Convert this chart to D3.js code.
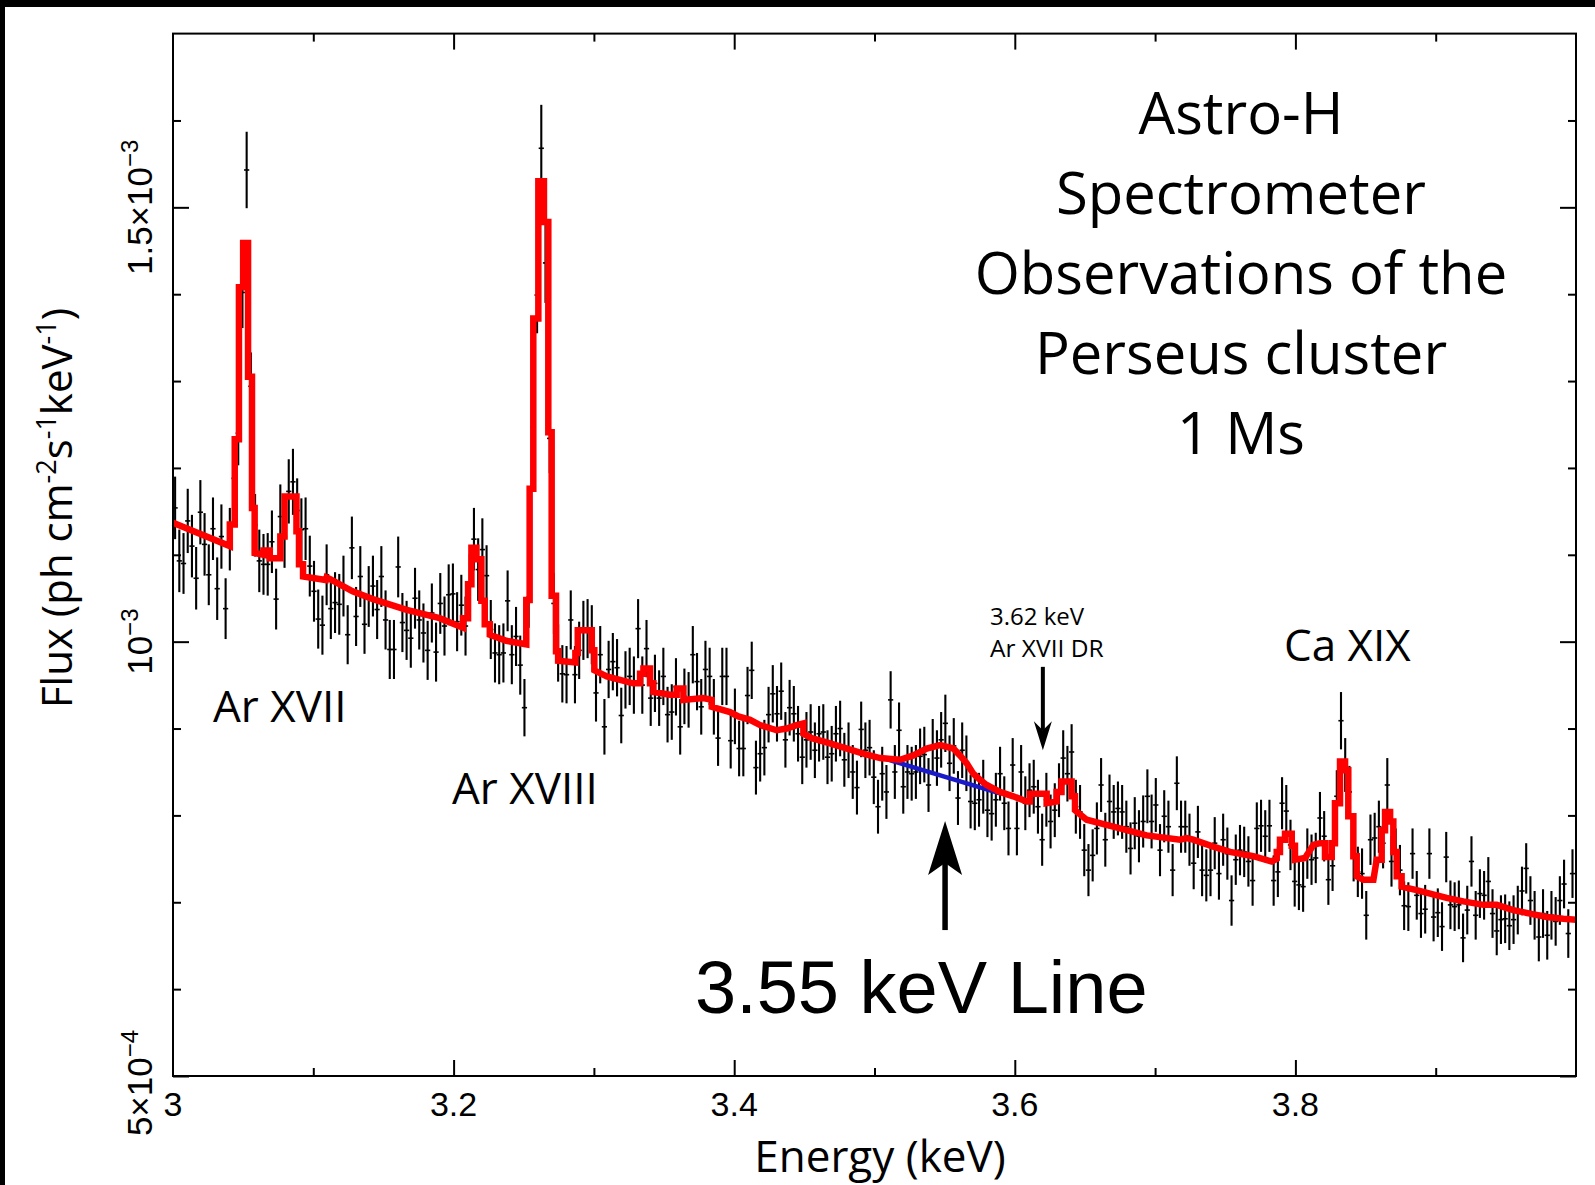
<!DOCTYPE html>
<html><head><meta charset="utf-8">
<script src="https://cdn.jsdelivr.net/npm/d3@7"></script>
<style>html,body{margin:0;padding:0;background:#fff;} svg{display:block;}</style>
</head><body>
<svg id="c" width="1595" height="1185"></svg>
<script>
// ---------- DATA (flux in units of 1e-3 ph cm^-2 s^-1 keV^-1) ----------
const energy = [
3.0015,3.0045,3.0075,3.0105,3.0135,3.0165,3.0195,3.0225,3.0255,3.0285,
3.0315,3.0345,3.0375,3.0405,3.0435,3.0465,3.0495,3.0525,3.0555,3.0585,
3.0615,3.0645,3.0675,3.0705,3.0735,3.0765,3.0795,3.0825,3.0855,3.0885,
3.0915,3.0945,3.0975,3.1005,3.1035,3.1065,3.1095,3.1125,3.1155,3.1185,
3.1215,3.1245,3.1275,3.1305,3.1335,3.1365,3.1395,3.1425,3.1455,3.1485,
3.1515,3.1545,3.1575,3.1605,3.1635,3.1665,3.1695,3.1725,3.1755,3.1785,
3.1815,3.1845,3.1875,3.1905,3.1935,3.1965,3.1995,3.2025,3.2055,3.2085,
3.2115,3.2145,3.2175,3.2205,3.2235,3.2265,3.2295,3.2325,3.2355,3.2385,
3.2415,3.2445,3.2475,3.2505,3.2535,3.2565,3.2595,3.2625,3.2655,3.2685,
3.2715,3.2745,3.2775,3.2805,3.2835,3.2865,3.2895,3.2925,3.2955,3.2985,
3.3015,3.3045,3.3075,3.3105,3.3135,3.3165,3.3195,3.3225,3.3255,3.3285,
3.3315,3.3345,3.3375,3.3405,3.3435,3.3465,3.3495,3.3525,3.3555,3.3585,
3.3615,3.3645,3.3675,3.3705,3.3735,3.3765,3.3795,3.3825,3.3855,3.3885,
3.3915,3.3945,3.3975,3.4005,3.4035,3.4065,3.4095,3.4125,3.4155,3.4185,
3.4215,3.4245,3.4275,3.4305,3.4335,3.4365,3.4395,3.4425,3.4455,3.4485,
3.4515,3.4545,3.4575,3.4605,3.4635,3.4665,3.4695,3.4725,3.4755,3.4785,
3.4815,3.4845,3.4875,3.4905,3.4935,3.4965,3.4995,3.5025,3.5055,3.5085,
3.5115,3.5145,3.5175,3.5205,3.5235,3.5265,3.5295,3.5325,3.5355,3.5385,
3.5415,3.5445,3.5475,3.5505,3.5535,3.5565,3.5595,3.5625,3.5655,3.5685,
3.5715,3.5745,3.5775,3.5805,3.5835,3.5865,3.5895,3.5925,3.5955,3.5985,
3.6015,3.6045,3.6075,3.6105,3.6135,3.6165,3.6195,3.6225,3.6255,3.6285,
3.6315,3.6345,3.6375,3.6405,3.6435,3.6465,3.6495,3.6525,3.6555,3.6585,
3.6615,3.6645,3.6675,3.6705,3.6735,3.6765,3.6795,3.6825,3.6855,3.6885,
3.6915,3.6945,3.6975,3.7005,3.7035,3.7065,3.7095,3.7125,3.7155,3.7185,
3.7215,3.7245,3.7275,3.7305,3.7335,3.7365,3.7395,3.7425,3.7455,3.7485,
3.7515,3.7545,3.7575,3.7605,3.7635,3.7665,3.7695,3.7725,3.7755,3.7785,
3.7815,3.7845,3.7875,3.7905,3.7935,3.7965,3.7995,3.8025,3.8055,3.8085,
3.8115,3.8145,3.8175,3.8205,3.8235,3.8265,3.8295,3.8325,3.8355,3.8385,
3.8415,3.8445,3.8475,3.8505,3.8535,3.8565,3.8595,3.8625,3.8655,3.8685,
3.8715,3.8745,3.8775,3.8805,3.8835,3.8865,3.8895,3.8925,3.8955,3.8985,
3.9015,3.9045,3.9075,3.9105,3.9135,3.9165,3.9195,3.9225,3.9255,3.9285,
3.9315,3.9345,3.9375,3.9405,3.9435,3.9465,3.9495,3.9525,3.9555,3.9585,
3.9615,3.9645,3.9675,3.9705,3.9735,3.9765,3.9795,3.9825,3.9855,3.9885,
3.9915,3.9945,3.9975];

const flux = [
1.154,1.093,1.090,1.139,1.110,1.073,1.149,1.112,1.077,1.130,
1.061,1.121,1.038,1.118,1.188,1.240,1.402,1.543,1.294,1.134,
1.093,1.089,1.089,1.115,1.049,1.144,1.121,1.173,1.184,1.151,
1.129,1.130,1.087,1.058,1.026,1.019,1.077,1.038,1.045,1.043,
1.064,1.008,1.108,1.029,1.075,1.020,1.052,1.064,1.037,1.075,
1.025,0.991,0.991,1.086,1.022,1.013,1.004,1.050,1.025,1.010,
0.990,1.033,0.988,1.044,1.018,1.054,1.055,1.023,1.042,1.018,
1.066,1.118,1.083,1.106,1.076,1.014,0.987,0.985,0.987,1.047,
0.985,1.006,0.973,0.924,1.051,1.247,1.399,1.568,1.436,1.234,
1.044,0.987,0.963,0.962,1.025,0.962,0.990,1.013,1.015,1.008,
0.941,0.985,0.902,0.968,0.977,0.970,0.915,0.956,0.960,0.950,
1.015,0.950,0.992,0.935,0.952,0.935,0.960,0.916,0.919,0.948,
0.902,0.937,0.933,0.985,0.954,0.925,0.968,0.960,0.925,0.889,
0.960,0.960,0.886,0.914,0.877,0.877,0.938,0.967,0.855,0.871,
0.878,0.916,0.940,0.917,0.943,0.887,0.924,0.917,0.894,0.867,
0.887,0.896,0.875,0.894,0.896,0.867,0.871,0.894,0.900,0.864,
0.875,0.850,0.832,0.899,0.875,0.878,0.844,0.810,0.848,0.827,
0.933,0.850,0.898,0.833,0.850,0.848,0.850,0.868,0.870,0.835,
0.879,0.866,0.887,0.906,0.860,0.880,0.820,0.875,0.860,0.816,
0.814,0.818,0.833,0.806,0.802,0.818,0.848,0.814,0.785,0.858,
0.785,0.850,0.814,0.829,0.833,0.810,0.772,0.818,0.793,0.806,
0.829,0.866,0.848,0.873,0.810,0.804,0.760,0.737,0.754,0.785,
0.835,0.772,0.816,0.804,0.808,0.804,0.787,0.762,0.791,0.776,
0.793,0.822,0.793,0.812,0.760,0.799,0.787,0.737,0.837,0.787,
0.787,0.772,0.745,0.781,0.737,0.731,0.737,0.768,0.733,0.772,
0.756,0.702,0.749,0.760,0.758,0.747,0.725,0.785,0.788,0.776,
0.788,0.725,0.735,0.814,0.805,0.766,0.724,0.720,0.718,0.756,
0.749,0.751,0.797,0.776,0.726,0.742,0.822,0.909,0.858,0.827,
0.753,0.735,0.733,0.685,0.772,0.774,0.787,0.768,0.835,0.747,
0.756,0.737,0.696,0.695,0.756,0.708,0.687,0.692,0.756,0.683,
0.688,0.672,0.752,0.697,0.695,0.697,0.659,0.691,0.747,0.685,
0.710,0.708,0.724,0.687,0.667,0.680,0.681,0.673,0.680,0.691,
0.713,0.739,0.702,0.685,0.660,0.687,0.662,0.685,0.678,0.702,
0.721,0.664,0.733];

const fluxErr = [
.036,.036,.035,.037,.036,.036,.037,.036,.035,.036,
.036,.037,.035,.036,.037,.037,.041,.044,.039,.036,
.036,.035,.036,.036,.035,.037,.036,.037,.038,.037,
.036,.036,.035,.035,.034,.034,.035,.035,.035,.035,
.035,.034,.036,.034,.035,.034,.035,.035,.034,.035,
.034,.034,.034,.035,.034,.034,.034,.035,.034,.034,
.034,.034,.034,.035,.034,.035,.035,.034,.035,.034,
.035,.036,.036,.036,.035,.034,.034,.034,.034,.035,
.034,.034,.034,.033,.035,.040,.044,.050,.046,.040,
.035,.033,.033,.033,.034,.033,.033,.034,.034,.034,
.033,.033,.032,.033,.033,.033,.032,.033,.033,.033,
.034,.033,.033,.032,.033,.032,.033,.032,.032,.033,
.032,.032,.032,.033,.033,.032,.033,.033,.032,.032,
.033,.033,.032,.032,.032,.032,.033,.033,.031,.032,
.032,.032,.033,.032,.033,.032,.032,.032,.032,.031,
.032,.032,.032,.032,.032,.031,.032,.032,.032,.031,
.032,.031,.031,.032,.032,.032,.031,.031,.031,.031,
.033,.031,.032,.031,.031,.031,.031,.032,.032,.031,
.032,.032,.032,.033,.032,.032,.031,.032,.032,.031,
.031,.031,.031,.031,.031,.031,.031,.031,.031,.031,
.031,.031,.031,.031,.031,.031,.030,.031,.031,.031,
.031,.032,.032,.032,.031,.031,.030,.030,.030,.030,
.031,.031,.031,.031,.031,.031,.030,.030,.030,.030,
.030,.031,.031,.031,.030,.030,.030,.030,.031,.030,
.030,.030,.030,.030,.030,.030,.030,.030,.030,.030,
.030,.029,.029,.029,.029,.029,.029,.030,.030,.030,
.030,.029,.029,.030,.030,.029,.029,.029,.029,.029,
.029,.029,.030,.029,.029,.029,.030,.033,.031,.030,
.029,.029,.029,.028,.029,.029,.030,.029,.031,.029,
.029,.029,.028,.028,.029,.028,.028,.028,.029,.028,
.028,.028,.029,.028,.028,.028,.028,.028,.029,.028,
.028,.028,.028,.028,.028,.028,.028,.028,.028,.028,
.028,.029,.028,.028,.028,.028,.028,.028,.028,.028,
.028,.028,.028];

const binWidth = 0.003; // keV

// best-fit model (red)
const modelE = [3.000,3.0405,3.0405,3.044,3.044,3.047,3.047,3.050,3.050,3.0535,3.0535,3.0563,3.0563,3.0582,3.0582,3.0645,3.0645,3.069,3.069,3.0765,3.0765,3.0795,3.0795,3.088,3.088,3.0898,3.0898,3.0927,3.0927,3.109,3.1095,3.112,3.128,3.1425,3.166,3.190,3.2067,3.2067,3.2103,3.2103,3.2127,3.2127,3.2162,3.2162,3.2198,3.2198,3.2222,3.2222,3.2258,3.2258,3.2376,3.2518,3.2518,3.2542,3.2542,3.2568,3.2568,3.2604,3.2604,3.2644,3.2644,3.2675,3.2675,3.2699,3.2699,3.273,3.273,3.2745,3.2745,3.2868,3.2868,3.2885,3.2885,3.2985,3.2985,3.3003,3.3003,3.3092,3.328,3.3329,3.3329,3.3353,3.3353,3.340,3.340,3.3424,3.3424,3.3543,3.359,3.359,3.3638,3.3638,3.378,3.384,3.384,3.397,3.403,3.4113,3.4184,3.4303,3.4374,3.4445,3.4493,3.4493,3.4553,3.4683,3.492,3.504,3.5182,3.5277,3.5372,3.5467,3.5562,3.5609,3.5657,3.5704,3.5752,3.5799,3.5894,3.5989,3.6084,3.6108,3.6108,3.6227,3.6227,3.6298,3.6298,3.6333,3.6333,3.6405,3.6405,3.6429,3.6429,3.6512,3.6702,3.694,3.7177,3.7225,3.7272,3.7415,3.7534,3.770,3.7831,3.7867,3.7867,3.789,3.789,3.7926,3.7926,3.7974,3.7974,3.7997,3.7997,3.8069,3.8104,3.8128,3.8176,3.8211,3.8211,3.8259,3.8259,3.8282,3.8282,3.8318,3.8318,3.8354,3.8354,3.8377,3.8377,3.8413,3.8413,3.8437,3.8437,3.8484,3.8556,3.8579,3.8615,3.8615,3.8639,3.8639,3.8675,3.8675,3.8698,3.8698,3.8722,3.8722,3.8757,3.8757,3.8864,3.896,3.9078,3.9197,3.934,3.9435,3.9553,3.9672,3.9791,3.991,4.000];
const modelF = [1.137,1.110,1.135,1.135,1.233,1.233,1.408,1.408,1.459,1.459,1.305,1.305,1.154,1.154,1.102,1.100,1.105,1.105,1.096,1.096,1.121,1.121,1.167,1.167,1.127,1.127,1.089,1.089,1.075,1.071,1.074,1.072,1.058,1.049,1.037,1.027,1.016,1.027,1.027,1.066,1.066,1.108,1.108,1.095,1.095,1.047,1.047,1.020,1.020,1.008,1.001,0.997,1.048,1.048,1.176,1.176,1.372,1.372,1.530,1.530,1.483,1.483,1.241,1.241,1.053,1.053,0.989,0.989,0.978,0.976,0.987,0.987,1.013,1.013,0.990,0.990,0.967,0.960,0.952,0.952,0.963,0.963,0.969,0.969,0.952,0.952,0.942,0.939,0.939,0.946,0.946,0.933,0.935,0.933,0.925,0.919,0.914,0.910,0.904,0.898,0.900,0.904,0.906,0.894,0.889,0.883,0.871,0.866,0.864,0.869,0.877,0.881,0.877,0.869,0.860,0.848,0.841,0.835,0.827,0.822,0.816,0.816,0.825,0.825,0.814,0.816,0.827,0.827,0.839,0.839,0.822,0.822,0.806,0.795,0.787,0.777,0.772,0.774,0.772,0.764,0.758,0.753,0.747,0.750,0.758,0.758,0.772,0.772,0.779,0.779,0.765,0.765,0.749,0.751,0.760,0.766,0.768,0.768,0.752,0.752,0.768,0.768,0.814,0.814,0.862,0.862,0.852,0.852,0.799,0.799,0.753,0.753,0.730,0.726,0.726,0.749,0.749,0.783,0.783,0.804,0.804,0.793,0.793,0.758,0.758,0.730,0.730,0.718,0.714,0.710,0.705,0.701,0.697,0.697,0.691,0.687,0.683,0.681,0.680];

// continuum without the 3.55 keV line (blue)
const contE = [3.508, 3.590];
const contF = [0.865, 0.825];

// axis ticks
const xMajorTicks = [3.2, 3.4, 3.6, 3.8];
const xMinorTicks = [3.1, 3.3, 3.5, 3.7, 3.9];
const xLabelValues = [3.0, 3.2, 3.4, 3.6, 3.8];
const xLabelTexts = ["3", "3.2", "3.4", "3.6", "3.8"];
const yMajorTicks = [0.5, 1.0, 1.5];
const yMinorTicks = [0.6, 0.7, 0.8, 0.9, 1.1, 1.2, 1.3, 1.4, 1.6];
const yLabelValues = [0.5, 1.0, 1.5];
const yLabelMantissa = ["5\u00d710", "10", "1.5\u00d710"];
const yLabelExponent = ["\u22124", "\u22123", "\u22123"];

const titleLines = ["Astro-H", "Spectrometer", "Observations of the", "Perseus cluster", "1 Ms"];

// ---------- DRAW ----------
const svg = d3.select('#c');
const W = 1595, H = 1185;
svg.append('rect').attr('width', W).attr('height', H).attr('fill', '#fff');
svg.append('rect').attr('x', 0).attr('y', 0).attr('width', W).attr('height', 7).attr('fill', '#000');
svg.append('rect').attr('x', 0).attr('y', 0).attr('width', 5).attr('height', H).attr('fill', '#000');

const x = d3.scaleLinear().domain([3, 4]).range([173, 1576]);
const y = d3.scaleLinear().domain([0.5, 1.7]).range([1076, 33.6]);

// error bars
const pts = energy.map((e, i) => ({e, f: flux[i], s: fluxErr[i]}));
const gErr = svg.append('g').attr('stroke', '#000');
gErr.selectAll('line.v').data(pts).join('line').attr('class', 'v')
  .attr('x1', d => x(d.e)).attr('x2', d => x(d.e))
  .attr('y1', d => y(d.f - d.s)).attr('y2', d => y(d.f + d.s))
  .attr('stroke-width', 2.1);
gErr.selectAll('line.h').data(pts).join('line').attr('class', 'h')
  .attr('x1', d => x(d.e - binWidth / 2) - 0.5).attr('x2', d => x(d.e + binWidth / 2) + 0.5)
  .attr('y1', d => y(d.f)).attr('y2', d => y(d.f))
  .attr('stroke-width', 1.6);

const line = d3.line().x(d => x(d[0])).y(d => y(d[1]));
svg.append('path').datum(d3.zip(contE, contF)).attr('d', line)
  .attr('fill', 'none').attr('stroke', '#1a1ac8').attr('stroke-width', 4.5);
svg.append('path').datum(d3.zip(modelE, modelF)).attr('d', line)
  .attr('fill', 'none').attr('stroke', '#ff0000').attr('stroke-width', 6.5)
  .attr('stroke-linejoin', 'miter').attr('stroke-linecap', 'butt');

// axes (inward ticks)
function styleAxis(g) {
  g.select('.domain').remove();
  g.selectAll('.tick line').attr('stroke', '#000').attr('stroke-width', 2);
  g.selectAll('.tick text').remove();
}
const y0 = y(0.5), y1 = y(1.7), x0 = x(3), x1 = x(4);
svg.append('g').attr('transform', `translate(0,${y0})`).call(d3.axisBottom(x).tickValues(xMajorTicks).tickSize(-16).tickFormat('')).call(styleAxis);
svg.append('g').attr('transform', `translate(0,${y0})`).call(d3.axisBottom(x).tickValues(xMinorTicks).tickSize(-8).tickFormat('')).call(styleAxis);
svg.append('g').attr('transform', `translate(0,${y1})`).call(d3.axisTop(x).tickValues(xMajorTicks).tickSize(-16).tickFormat('')).call(styleAxis);
svg.append('g').attr('transform', `translate(0,${y1})`).call(d3.axisTop(x).tickValues(xMinorTicks).tickSize(-8).tickFormat('')).call(styleAxis);
svg.append('g').attr('transform', `translate(${x0},0)`).call(d3.axisLeft(y).tickValues(yMajorTicks).tickSize(-16).tickFormat('')).call(styleAxis);
svg.append('g').attr('transform', `translate(${x0},0)`).call(d3.axisLeft(y).tickValues(yMinorTicks).tickSize(-8).tickFormat('')).call(styleAxis);
svg.append('g').attr('transform', `translate(${x1},0)`).call(d3.axisRight(y).tickValues(yMajorTicks).tickSize(-16).tickFormat('')).call(styleAxis);
svg.append('g').attr('transform', `translate(${x1},0)`).call(d3.axisRight(y).tickValues(yMinorTicks).tickSize(-8).tickFormat('')).call(styleAxis);

svg.append('rect').attr('x', x0).attr('y', y1).attr('width', x1 - x0).attr('height', y0 - y1)
  .attr('fill', 'none').attr('stroke', '#000').attr('stroke-width', 2);

// tick labels
const helv = "'Liberation Sans', Arial, Helvetica, sans-serif";
const humanist = "'Open Sans', 'Noto Sans', sans-serif";
svg.append('g').selectAll('text').data(xLabelValues).join('text')
  .attr('x', d => x(d)).attr('y', 1116).attr('text-anchor', 'middle')
  .attr('font-family', helv).attr('font-size', 34).attr('fill', '#000')
  .text((d, i) => xLabelTexts[i]);

yLabelValues.forEach((v, i) => {
  const yy = y(v) + (v === 0.5 ? 7 : 0);
  const t = svg.append('text').attr('transform', `translate(152,${yy}) rotate(-90)`)
    .attr('text-anchor', 'middle').attr('font-family', helv).attr('font-size', 35).attr('fill', '#000');
  t.append('tspan').text(yLabelMantissa[i]);
  t.append('tspan').attr('dy', -14).attr('font-size', 24).text(yLabelExponent[i]);
});

// axis titles
svg.append('text').attr('x', 880).attr('y', 1172).attr('text-anchor', 'middle')
  .attr('font-family', humanist).attr('font-size', 44).attr('fill', '#000').text('Energy (keV)');
const yt = svg.append('text').attr('transform', 'translate(72,508) rotate(-90)')
  .attr('text-anchor', 'middle').attr('font-family', humanist).attr('font-size', 42).attr('fill', '#000');
yt.append('tspan').text('Flux (ph cm');
yt.append('tspan').attr('dy', -16).attr('font-size', 27).text('-2');
yt.append('tspan').attr('dy', 16).text('s');
yt.append('tspan').attr('dy', -16).attr('font-size', 27).text('-1');
yt.append('tspan').attr('dy', 16).text('keV');
yt.append('tspan').attr('dy', -16).attr('font-size', 27).text('-1');
yt.append('tspan').attr('dy', 16).text(')');

// title block
svg.append('g').selectAll('text').data(titleLines).join('text')
  .attr('x', 1241).attr('y', (d, i) => 134 + i * 80).attr('text-anchor', 'middle')
  .attr('font-family', humanist).attr('font-size', 58).attr('fill', '#000').text(d => d);

// line labels
function label(txt, px, py, size, fam) {
  svg.append('text').attr('x', px).attr('y', py).attr('font-family', fam || humanist)
    .attr('font-size', size).attr('fill', '#000').text(txt);
}
label('Ar XVII', 213, 722, 44);
label('Ar XVIII', 452, 804, 44);
label('Ca XIX', 1284, 661, 44);
label('3.62 keV', 990, 625, 24);
label('Ar XVII DR', 990, 657, 24.5);
label('3.55 keV Line', 695, 1013, 74, helv);

// arrows
const drE = 3.620, drTop = 0.971, drTip = 0.875;
const axd = x(drE);
svg.append('line').attr('x1', axd).attr('x2', axd).attr('y1', y(drTop)).attr('y2', y(drTip) - 20)
  .attr('stroke', '#000').attr('stroke-width', 4);
svg.append('path').attr('d', `M${axd},${y(drTip)} L${axd - 9},${y(drTip) - 29} L${axd},${y(drTip) - 20} L${axd + 9},${y(drTip) - 29} Z`).attr('fill', '#000');

const upE = 3.5503, upTail = 0.668, upTip = 0.7935;
const axu = x(upE);
svg.append('line').attr('x1', axu).attr('x2', axu).attr('y1', y(upTail)).attr('y2', y(upTip) + 40)
  .attr('stroke', '#000').attr('stroke-width', 5.5);
svg.append('path').attr('d', `M${axu},${y(upTip)} L${axu - 17},${y(upTip) + 54} L${axu},${y(upTip) + 42} L${axu + 17},${y(upTip) + 54} Z`).attr('fill', '#000');
</script>
</body></html>
